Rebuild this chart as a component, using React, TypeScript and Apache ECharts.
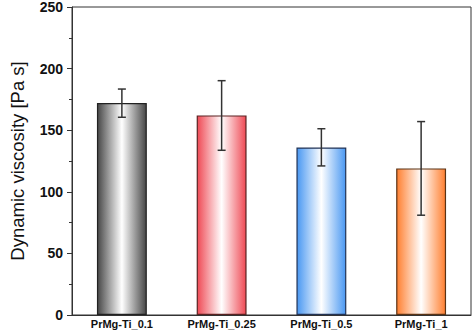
import React, { useEffect, useRef } from "react";
import * as echarts from "echarts";

const categories = ["PrMg-Ti_0.1", "PrMg-Ti_0.25", "PrMg-Ti_0.5", "PrMg-Ti_1"];
const viscosity = [172, 162, 136, 119];
const errLow = [160.5, 133.7, 121, 81];
const errHigh = [183.4, 190.2, 151.2, 157];
const edgeColors = ["#474747", "#ef4a55", "#4a98f2", "#ff7f30"];
const borderColors = ["#222222", "#5a2222", "#223355", "#5a3315"];

export default function App() {
  const ref = useRef<HTMLDivElement>(null);
  useEffect(() => {
    if (!ref.current) return;
    const chart = echarts.init(ref.current, null, { renderer: "svg" });
    const grad = (c: string) =>
      new echarts.graphic.LinearGradient(0, 0, 1, 0, [
        { offset: 0, color: c },
        { offset: 0.5, color: "#ffffff" },
        { offset: 1, color: c },
      ]);
    chart.setOption({
      animation: false,
      grid: {
        left: 54,
        right: 3,
        top: 7,
        bottom: 16,
        show: true,
        borderColor: "#333",
        borderWidth: 1,
        backgroundColor: "transparent",
      },
      xAxis: {
        type: "category",
        data: categories,
        boundaryGap: true,
        axisLine: { lineStyle: { color: "#333", width: 1 } },
        axisTick: { show: false },
        axisLabel: {
          color: "#111",
          fontFamily: "Liberation Sans, Arial",
          fontWeight: "bold",
          fontSize: 11,
          margin: 3,
          interval: 0,
        },
      },
      yAxis: {
        type: "value",
        min: 0,
        max: 250,
        interval: 50,
        name: "Dynamic viscosity [Pa s]",
        nameLocation: "middle",
        nameGap: 45,
        nameTextStyle: {
          color: "#111",
          fontFamily: "Liberation Sans, Arial",
          fontSize: 18.5,
        },
        axisLine: { show: true, lineStyle: { color: "#333", width: 1 } },
        axisTick: { show: true, length: 5, lineStyle: { color: "#333" } },
        minorTick: { show: true, splitNumber: 2, length: 3, lineStyle: { color: "#333" } },
        splitLine: { show: false },
        axisLabel: {
          color: "#111",
          fontFamily: "Liberation Sans, Arial",
          fontWeight: "bold",
          fontSize: 14,
          margin: 9,
        },
      },
      series: [
        {
          type: "bar",
          barWidth: "50%",
          data: viscosity.map((v, i) => ({
            value: v,
            itemStyle: {
              color: grad(edgeColors[i]),
              borderColor: borderColors[i],
              borderWidth: 1.2,
            },
          })),
          z: 2,
        },
        {
          type: "custom",
          z: 5,
          data: categories.map((_, i) => [i, errLow[i], errHigh[i]]),
          renderItem: (params: any, api: any) => {
            const x = api.value(0);
            const lo = api.coord([x, api.value(1)]);
            const hi = api.coord([x, api.value(2)]);
            const hw = 4;
            const style = { stroke: "#333", lineWidth: 1.5 };
            return {
              type: "group",
              children: [
                { type: "line", shape: { x1: lo[0], y1: lo[1], x2: hi[0], y2: hi[1] }, style },
                { type: "line", shape: { x1: lo[0] - hw, y1: lo[1], x2: lo[0] + hw, y2: lo[1] }, style },
                { type: "line", shape: { x1: hi[0] - hw, y1: hi[1], x2: hi[0] + hw, y2: hi[1] }, style },
              ],
            };
          },
        },
      ],
    });
    return () => chart.dispose();
  }, []);
  return (
    <div
      ref={ref}
      style={{ position: "absolute", left: 0, top: 0, width: 474, height: 331, background: "#fff" }}
    />
  );
}
